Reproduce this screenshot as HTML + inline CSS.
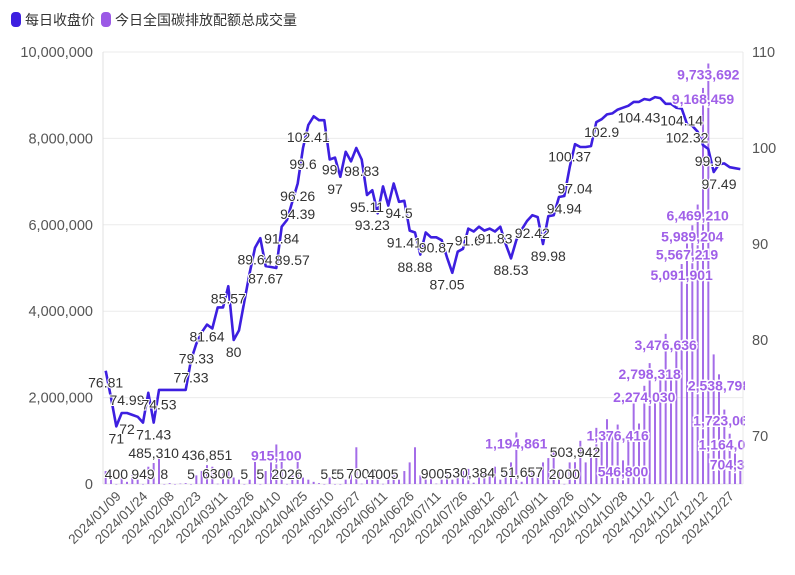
<!DOCTYPE html>
<html><head><meta charset="utf-8">
<style>
html,body{margin:0;padding:0;background:#fff;}
svg{display:block;font-family:"Liberation Sans","Noto Sans CJK SC",sans-serif;}
</style></head>
<body>
<svg id="chart" width="795" height="575" viewBox="0 0 795 575" xmlns="http://www.w3.org/2000/svg">
  <defs><clipPath id="plotclip"><rect x="100" y="40" width="645" height="450"/></clipPath></defs>
  <g>
    <g>
      <rect x="11" y="12" width="10" height="15" rx="4" fill="#3d1fe0"/>
      <text x="25" y="25" font-size="14" fill="#333">每日收盘价</text>
    </g>
    <g>
      <rect x="101" y="12" width="10" height="15" rx="4" fill="#9b59e6"/>
      <text x="115" y="25" font-size="14" fill="#333">今日全国碳排放配额总成交量</text>
    </g>
  </g>
  <g id="grid"></g>
  <g id="bars" clip-path="url(#plotclip)"></g>
  <g id="line"></g>
  <g id="plabels"></g>
  <g id="vlabels" clip-path="url(#plotclip)"></g>
  <g id="axes"></g>
</svg>
<script>
const xTickLabels = ["2024/01/09","2024/01/24","2024/02/08","2024/02/23","2024/03/11","2024/03/26","2024/04/10","2024/04/25","2024/05/10","2024/05/27","2024/06/11","2024/06/26","2024/07/11","2024/07/26","2024/08/12","2024/08/27","2024/09/11","2024/09/26","2024/10/11","2024/10/28","2024/11/12","2024/11/27","2024/12/12","2024/12/27"];
const leftTicks = [0,2000000,4000000,6000000,8000000,10000000];
const rightTicks = [70,80,90,100,110];
const price = [76.8,74,71,72.4,72.4,72.2,72,71.4,74.5,71.4,
74.8,74.8,74.8,74.8,74.8,74.8,77.9,79.6,80.8,81.6,
81.2,83.4,83.4,85.6,80,81,84,87,89.6,90.6,
87.7,87.6,87.5,91.8,92.5,94.4,96.3,100,102.4,103.3,
102.9,102.9,98.8,99,97,99.6,98.6,100,98.8,95.1,
95.6,93.2,96,94,96.3,94.4,94.5,91.4,91.2,88.9,
91.2,90.7,90.7,90.4,88.6,87,89.2,89.5,91.6,91.3,
91.8,91.4,91.6,91.3,91.8,90,88.5,90.4,91.5,92.4,
93,92.8,90,92.9,93,94.9,95,98,100.4,100.1,
100.1,100.2,102.7,103,103.5,103.6,104,104.2,104.4,104.8,
104.8,105.1,105,105.3,105.2,104.6,104.6,104.2,104.1,102.5,
102.3,101.7,100.3,99.9,97.5,98.3,98.4,98,97.9,97.8];
const volume = [300000,120000,400,150000,50000,200000,100000,949,400000,485310,
600000,8,20000,0,10000,20000,5,200000,300000,436851,
400000,6300,250000,300000,150000,100000,5,100000,600000,5,
300000,500000,915100,600000,2026,300000,750000,150000,100000,50000,
20000,5,150000,5,5,100000,300000,850000,7000,100000,
200000,150000,4005,100000,200000,100000,300000,500000,850000,200000,
100000,150000,9005,100000,200000,100000,150000,300000,350000,30384,
150000,300000,200000,400000,100000,300000,500000,1194861,51657,300000,
400000,200000,500000,600000,800000,300000,2000,500000,503942,1000000,
500000,800000,1300000,1100000,1500000,1200000,1376416,546800,1200000,1900000,
1400000,2274030,2798318,2000000,2500000,3476636,2500000,3200000,5091901,5567219,
5989204,6469210,9168459,9733692,3000000,2538798,1723068,1164093,704376,500000];
const priceLabelIdx = [0,4,4,2,9,10,16,17,19,23,24,28,30,33,35,36,36,37,38,42,43,48,49,50,55,56,58,62,64,68,73,76,80,83,86,88,87,93,100,108,109,113,115];
const priceLabelText = ["76.81","74.99","72","71","71.43","74.53","77.33","79.33","81.64","85.57","80","89.64","87.67","91.84","89.57","94.39","96.26","99.6","102.41","99","97","98.83","95.11","93.23","94.5","91.41","88.88","90.87","87.05","91.6","91.83","88.53","92.42","89.98","94.94","97.04","100.37","102.9","104.43","104.14","102.32","99.9","97.49"];
const volLabelIdx = [2,7,9,11,16,19,21,26,29,32,34,41,43,44,48,52,62,69,77,78,86,88,96,97,101,102,105,108,109,110,111,112,113,115,116,117,118];

const NS="http://www.w3.org/2000/svg";
const L=103,R=743,T=52,B=484,N=price.length;
const step=(R-L)/N;
function xS(i){return L+(i+0.5)*step;}
function yV(v){return B-(v/10000000)*(B-T);}
function yP(v){return B-((v-65)/45)*(B-T);}
function mk(tag,attrs,parent){const e=document.createElementNS(NS,tag);for(const k in attrs)e.setAttribute(k,attrs[k]);parent.appendChild(e);return e;}
function fmt(n){return n.toString().replace(/\B(?=(\d{3})+(?!\d))/g,",");}
function fmtVol(n){return n<10000?String(n):fmt(n);}

const grid=document.getElementById('grid'),axes=document.getElementById('axes');
leftTicks.forEach(v=>{
  const g=mk('line',{x1:L,x2:R,y1:yV(v),y2:yV(v),stroke:'#ebebeb','stroke-width':1},grid);
  
  
  const t=mk('text',{x:93,y:yV(v)+5,'text-anchor':'end','font-size':14.5,fill:'#555'},axes);
  t.textContent=fmt(v);
  
  
});
const la=mk('line',{x1:L,x2:L,y1:T,y2:B,stroke:'#e0e0e0'},axes);


const ra=mk('line',{x1:R,x2:R,y1:T,y2:B,stroke:'#e8e8e8'},axes);


rightTicks.forEach(v=>{
  const t=mk('text',{x:752,y:yP(v)+5,'font-size':14.5,fill:'#555'},axes);
  t.textContent=v;
  
  
});
xTickLabels.forEach((s,k)=>{
  const x=xS(3+5*k);
  const t=mk('text',{x:x,y:497,'text-anchor':'end','font-size':13.5,fill:'#555',transform:`rotate(-45 ${x} 497)`},axes);
  t.textContent=s;
  
  
});

const bars=document.getElementById('bars');
volume.forEach((v,i)=>{
  const y=yV(v);
  const b=mk('rect',{x:xS(i)-1,y:y,width:2,height:Math.max(B-y,0.5),fill:'#a46ce8'},bars);
  
  
});

const lg=document.getElementById('line');
const d=price.map((v,i)=>(i?'L':'M')+xS(i).toFixed(1)+','+yP(v).toFixed(1)).join(' ');
const pl=mk('path',{d:d,fill:'none',stroke:'#3d1fe0','stroke-width':2.6,'stroke-linejoin':'round'},lg);



const plg=document.getElementById('plabels');
priceLabelIdx.forEach((idx,k)=>{
  const txt=priceLabelText[k];
  const t=mk('text',{x:xS(idx),y:yP(parseFloat(txt))+17,'text-anchor':'middle','font-size':14,fill:'#333',stroke:'#fff','stroke-width':2,'paint-order':'stroke'},plg);
  t.textContent=txt;
  
  
});

const vlg=document.getElementById('vlabels');
volLabelIdx.forEach(idx=>{
  const v=volume[idx];
  const big=v>=540000;
  const t=mk('text',{x:xS(idx),y:big?yV(v)+16:yV(v)-5,'text-anchor':'middle','font-size':14,
    fill:big?'#a060e8':'#333',stroke:'#fff','stroke-width':big?3:2,'paint-order':'stroke','font-weight':big?'bold':'normal'},vlg);
  t.textContent=fmtVol(v);
  
  
});
</script>
</body></html>
